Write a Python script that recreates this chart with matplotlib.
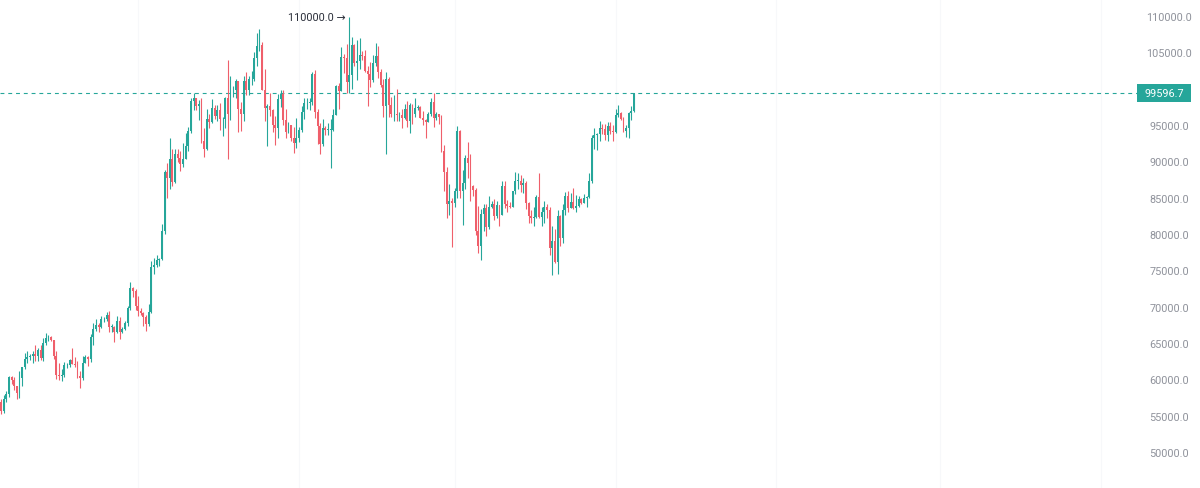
import matplotlib
matplotlib.use("Agg")
import matplotlib.pyplot as plt
from matplotlib.patches import Rectangle

# daily candles, in thousands (Sep 10 2024 .. May 8 2025)
opens = [
    57.0, 55.8, 57.4, 58.1, 60.5, 60.0, 59.2, 58.2, 60.3, 61.8, 62.9, 63.2, 63.3, 63.6, 63.3, 64.2, 63.1, 65.2, 65.8, 65.9, 65.6,
    63.3, 60.8, 60.6, 60.8, 62.1, 62.1, 62.8, 62.2, 62.1, 60.6, 60.3, 62.4, 63.2, 62.9, 66.0, 67.0, 67.6, 67.4, 68.4, 68.4,
    69.0, 67.4, 67.4, 66.7, 68.2, 66.6, 67.0, 67.9, 69.9, 72.7, 72.3,
    70.2, 69.5, 69.3, 68.7, 67.8, 69.4, 75.6, 75.9, 76.5, 76.7, 80.5, 88.7, 87.9, 90.5, 87.3, 91.1, 90.6, 89.8, 90.5, 92.3,
    94.3, 98.4, 98.9, 97.7, 98.0, 93.0, 91.9, 95.9, 95.6, 97.5,
    96.4, 97.2, 95.9, 96.0, 98.8, 96.6, 99.9, 99.9, 101.2, 97.4, 96.7, 101.2, 100.0, 101.4, 101.4, 104.3, 106.0, 106.1,
    100.0, 97.5, 97.8, 97.2, 95.1, 94.7, 98.7, 99.4, 95.8, 94.2, 95.2, 93.4, 92.6,
    93.4, 94.4, 96.9, 98.1, 98.2, 98.3, 102.1, 96.9, 95.0, 92.5, 94.7, 94.5, 94.5, 94.5, 96.5, 100.5, 99.8, 104.5, 104.4,
    101.1, 102.0, 106.1, 103.7, 104.0, 104.8, 104.7, 102.6, 102.1, 101.3, 103.7, 104.7,
    102.4, 100.7, 97.7, 101.4, 97.9, 96.6, 96.6, 96.5, 96.5, 96.1, 97.4, 95.7, 97.9, 96.6, 97.5, 97.6, 96.1, 95.8, 95.6,
    96.6, 98.3, 96.1, 96.6, 96.3, 91.5, 88.7, 84.3, 84.7,
    84.4, 86.0, 94.3, 86.1, 87.2, 90.6, 89.9, 86.7, 86.2, 80.6, 78.5, 82.9, 83.7, 81.1, 83.9, 84.3, 82.6, 84.1, 82.7, 86.8,
    84.2, 84.0, 83.8, 86.1, 87.5, 87.5, 86.9, 87.2, 84.4, 82.6, 82.3,
    82.5, 85.2, 82.5, 83.1, 83.8, 83.5, 78.2, 79.2, 76.3, 82.6, 79.6, 83.4, 85.3, 83.7, 84.5, 83.7, 84.0, 84.9, 84.4, 85.1,
    85.2, 87.5, 93.4, 93.7, 93.9, 94.7, 94.6, 93.8, 95.0, 94.3,
    94.2, 96.5, 96.8, 96.0, 94.3, 94.7, 96.8, 97.0,
]
highs = [
    57.5, 58.0, 58.5, 60.6, 60.6, 60.4, 59.2, 61.3, 61.8, 63.8, 64.1, 63.6, 64.0, 64.8, 64.5, 64.8, 65.8, 66.5, 66.2, 66.1, 65.6,
    64.1, 62.4, 61.5, 62.5, 62.4, 62.9, 64.5, 63.2, 62.6, 61.3, 63.4, 63.5, 63.3, 66.4, 67.9, 68.4, 67.9, 68.9, 68.7, 69.4,
    69.5, 67.8, 67.5, 68.8, 68.7, 67.4, 68.2, 70.2, 73.6, 72.9, 72.6,
    71.6, 70.0, 69.4, 69.0, 70.5, 76.4, 76.9, 77.2, 76.9, 81.5, 89.0, 89.9, 93.4, 91.8, 91.9, 91.8, 91.5, 92.6, 94.0, 94.9,
    98.9, 99.6, 98.9, 98.6, 98.9, 94.7, 97.3, 96.6, 98.7, 97.9,
    97.9, 98.2, 96.3, 99.0, 104.1, 101.9, 100.5, 101.4, 101.2, 98.3, 101.9, 102.5, 101.9, 102.6, 105.2, 107.8, 108.3, 106.5,
    102.8, 98.0, 99.5, 97.4, 96.4, 99.4, 99.9, 99.9, 97.3, 95.5, 95.2, 94.9, 96.1,
    94.9, 97.8, 98.9, 98.8, 98.8, 102.5, 102.7, 97.3, 95.4, 95.9, 95.0, 95.4, 95.9, 97.4, 100.7, 100.9, 105.9, 104.9, 106.3,
    110.0, 107.2, 106.3, 106.8, 107.1, 105.3, 105.5, 103.2, 103.8, 104.8, 106.4, 106.0,
    102.8, 101.5, 102.5, 101.7, 99.0, 99.2, 100.1, 96.9, 97.3, 98.0, 98.5, 98.1, 98.0, 98.8, 97.9, 97.7, 97.0, 96.0, 96.9,
    98.8, 99.5, 96.9, 96.7, 96.5, 92.4, 89.4, 87.0, 85.1,
    86.5, 95.0, 94.4, 88.9, 91.0, 92.8, 91.2, 86.9, 86.5, 84.0, 83.6, 84.3, 84.3, 85.3, 84.7, 85.0, 84.7, 84.1, 87.4, 87.4,
    84.8, 84.5, 86.1, 88.7, 88.5, 88.3, 87.8, 87.5, 84.6, 83.5, 83.9,
    85.5, 88.5, 83.9, 84.7, 84.2, 83.8, 81.2, 80.8, 83.5, 82.7, 84.2, 85.9, 86.1, 85.8, 86.4, 85.5, 85.4, 85.1, 85.6, 85.3,
    88.5, 93.8, 94.7, 94.0, 95.7, 95.3, 95.3, 95.6, 95.5, 95.2,
    97.4, 97.9, 96.9, 96.3, 95.2, 96.9, 97.7, 99.6,
]
lows = [
    55.3, 55.5, 57.0, 57.7, 59.5, 58.7, 57.5, 57.6, 59.2, 61.6, 62.4, 62.8, 62.4, 62.7, 62.7, 62.8, 62.7, 64.8, 65.4, 65.4, 62.9,
    60.2, 60.0, 59.9, 60.5, 61.7, 61.9, 62.2, 61.9, 60.3, 58.9, 60.1, 62.4, 62.0, 62.5, 64.8, 66.8, 66.7, 67.2, 68.0, 68.1,
    66.6, 66.6, 65.3, 66.5, 65.7, 66.5, 66.9, 67.5, 69.7, 71.5, 69.7,
    68.8, 69.0, 67.5, 66.8, 67.5, 69.3, 74.6, 75.6, 75.8, 76.5, 80.2, 85.1, 86.3, 86.7, 87.1, 90.1, 88.8, 89.4, 90.4, 91.6,
    94.1, 97.2, 97.2, 95.8, 92.6, 90.8, 91.7, 94.7, 95.4, 96.0,
    95.7, 94.4, 93.6, 94.7, 90.5, 95.8, 99.0, 98.8, 94.2, 94.3, 95.7, 99.3, 99.2, 100.6, 101.2, 103.3, 105.3, 100.0,
    95.7, 92.2, 96.4, 94.2, 92.4, 93.4, 97.6, 95.2, 93.4, 94.1, 92.9, 91.3, 92.0,
    92.8, 94.2, 96.0, 97.3, 97.2, 97.9, 96.1, 92.5, 91.2, 92.2, 93.8, 93.7, 89.2, 94.3, 96.5, 97.3, 99.8, 102.3, 99.6,
    99.5, 100.1, 103.3, 101.3, 102.8, 104.1, 102.5, 97.8, 100.3, 101.1, 103.3, 101.6,
    100.3, 96.2, 91.2, 96.2, 96.2, 95.7, 95.7, 95.7, 94.7, 95.9, 94.9, 94.1, 95.3, 96.3, 97.2, 96.1, 95.2, 93.4, 95.5,
    96.4, 94.9, 95.8, 95.3, 91.4, 86.1, 82.3, 82.8, 78.3,
    83.9, 85.1, 85.1, 81.4, 86.3, 87.8, 84.7, 85.3, 80.0, 77.5, 76.6, 80.6, 79.9, 80.8, 83.7, 82.0, 82.4, 81.2, 82.7, 83.7,
    83.2, 83.7, 83.8, 85.6, 86.3, 85.9, 85.8, 83.6, 81.7, 81.6, 81.3,
    82.4, 82.3, 81.2, 81.7, 82.4, 77.2, 74.5, 76.2, 74.6, 78.5, 78.9, 82.8, 83.1, 83.7, 83.6, 83.1, 83.8, 84.3, 84.4, 83.9,
    85.1, 87.1, 91.9, 91.7, 92.9, 93.9, 93.1, 92.9, 93.9, 92.9,
    94.1, 96.3, 95.8, 94.2, 93.5, 93.4, 95.8, 96.9,
]
closes = [
    55.8, 57.4, 58.1, 60.5, 60.0, 59.2, 58.2, 60.3, 61.8, 62.9, 63.2, 63.3, 63.6, 63.3, 64.2, 63.1, 65.2, 65.8, 65.9, 65.6, 63.3,
    60.8, 60.6, 60.8, 62.1, 62.1, 62.8, 62.2, 62.1, 60.6, 60.3, 62.4, 63.2, 62.9, 66.0, 67.0, 67.6, 67.4, 68.4, 68.4, 69.0,
    67.4, 67.4, 66.7, 68.2, 66.6, 67.0, 67.9, 69.9, 72.7, 72.3, 70.2,
    69.5, 69.3, 68.7, 67.8, 69.4, 75.6, 75.9, 76.5, 76.7, 80.5, 88.7, 87.9, 90.5, 87.3, 91.1, 90.6, 89.8, 90.5, 92.3, 94.3,
    98.4, 98.9, 97.7, 98.0, 93.0, 91.9, 95.9, 95.6, 97.5, 96.4,
    97.2, 95.9, 96.0, 98.8, 96.6, 99.9, 99.9, 101.2, 97.4, 96.7, 101.2, 100.0, 101.4, 101.4, 104.3, 106.0, 106.1, 100.0,
    97.5, 97.8, 97.2, 95.1, 94.7, 98.7, 99.4, 95.8, 94.2, 95.2, 93.4, 92.6, 93.4,
    94.4, 96.9, 98.1, 98.2, 98.3, 102.1, 96.9, 95.0, 92.5, 94.7, 94.5, 94.5, 94.5, 96.5, 100.5, 99.8, 104.5, 104.4, 101.1,
    102.0, 106.1, 103.7, 104.0, 104.8, 104.7, 102.6, 102.1, 101.3, 103.7, 104.7, 102.4,
    100.7, 97.7, 101.4, 97.9, 96.6, 96.6, 96.5, 96.5, 96.1, 97.4, 95.7, 97.9, 96.6, 97.5, 97.6, 96.1, 95.8, 95.6, 96.6,
    98.3, 96.1, 96.6, 96.3, 91.5, 88.7, 84.3, 84.7, 84.4,
    86.0, 94.3, 86.1, 87.2, 90.6, 89.9, 86.7, 86.2, 80.6, 78.5, 82.9, 83.7, 81.1, 83.9, 84.3, 82.6, 84.1, 82.7, 86.8, 84.2,
    84.0, 83.8, 86.1, 87.5, 87.5, 86.9, 87.2, 84.4, 82.6, 82.3, 82.5,
    85.2, 82.5, 83.1, 83.8, 83.5, 78.2, 79.2, 76.3, 82.6, 79.6, 83.4, 85.3, 83.7, 84.5, 83.7, 84.0, 84.9, 84.4, 85.1, 85.2,
    87.5, 93.4, 93.7, 93.9, 94.7, 94.6, 93.8, 95.0, 94.3, 94.2,
    96.5, 96.8, 96.0, 94.3, 94.7, 96.8, 97.0, 99.5967,
]

last_price = 99596.7
high_label = "110000.0"
high_index = 132
# 100000.0 is hidden behind the last-price tag in the reference
y_ticks = [50000, 55000, 60000, 65000, 70000, 75000, 80000, 85000, 90000, 95000, 105000, 110000]
month_lines = [52, 113, 172, 233, 294, 356, 417]

up_col = "#26a69a"
down_col = "#ef5f6b"

W, H = 1200, 489
fig = plt.figure(figsize=(W / 100, H / 100), dpi=100)
fig.patch.set_facecolor("white")
plot_w = 1137
ax = fig.add_axes([0, 0, plot_w / W, 1])
ax.set_facecolor("white")
for s in ax.spines.values():
    s.set_visible(False)
ax.set_xticks([])
ax.set_yticks([])

step = 2.6375
ax.set_xlim(-1 / step, -1 / step + plot_w / step)
ax.set_ylim(45185, 112477)

for m in month_lines:
    ax.axvline(m, color="#f7f8fa", lw=0.8, zorder=0)

xs = list(range(len(closes)))
o = [v * 1000 for v in opens]
h = [v * 1000 for v in highs]
l = [v * 1000 for v in lows]
c = [v * 1000 for v in closes]
cols = [up_col if c[i] >= o[i] else down_col for i in xs]

ax.vlines(xs, l, h, colors=cols, linewidth=0.8, zorder=2)
bottoms = [min(o[i], c[i]) for i in xs]
heights = [max(abs(c[i] - o[i]), 80) for i in xs]
ax.bar(xs, heights, bottom=bottoms, width=0.72, color=cols, linewidth=0, zorder=3)

# last price line
ax.axhline(last_price, color=up_col, lw=0.8, dashes=(3.5, 3.5), zorder=1)

fonts = ["Roboto", "DejaVu Sans"]

# high marker
ax.annotate(high_label + " \u2192", xy=(high_index, 110000), xytext=(-4, 0),
            textcoords="offset pixels", ha="right", va="center",
            fontsize=7.8, color="#2a2e39", family=fonts)

# price scale labels
for t in y_ticks:
    ax.text(1169 / plot_w, t, f"{t:.1f}", transform=ax.get_yaxis_transform(),
            ha="center", va="center", fontsize=7.8, color="#8f929b",
            family=fonts, clip_on=False)

# last price tag
y_px = 18 + (110000 - last_price) / 1000 * 7.2667
box_h = 18
fig.patches.append(Rectangle((1137 / W, (H - y_px - box_h / 2) / H), 54 / W, box_h / H,
                             transform=fig.transFigure, facecolor=up_col, edgecolor="none"))
fig.text(1164 / W, (H - y_px) / H, f"{last_price:.1f}", ha="center", va="center",
         fontsize=7.8, color="white", family=fonts)

fig.savefig("out.png", dpi=100)
